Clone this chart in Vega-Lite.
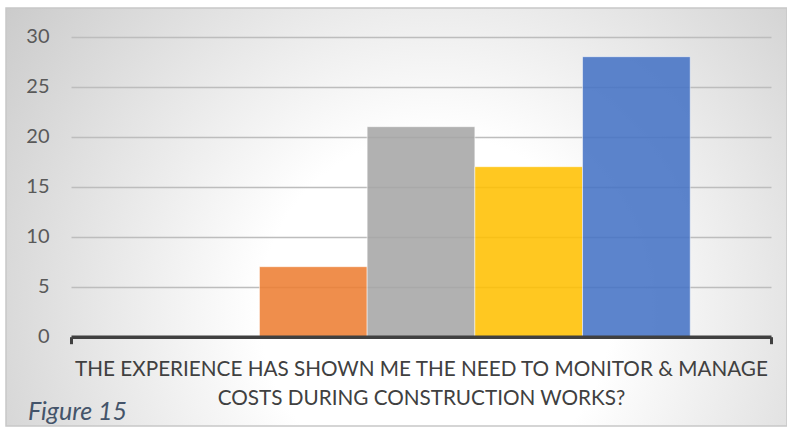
{
  "$schema": "https://vega.github.io/schema/vega-lite/v6.json",
  "autosize": "none",
  "padding": {"left": 6, "top": 8, "right": 0, "bottom": 2},
  "width": 781,
  "height": 418,
  "background": "#ffffff",
  "view": {
    "stroke": "#c8c8c8",
    "strokeWidth": 1.5,
    "fill": {
      "gradient": "radial",
      "x1": 0.55, "y1": 0.62, "r1": 0,
      "x2": 0.55, "y2": 0.62, "r2": 0.75,
      "stops": [
        {"offset": 0, "color": "#ffffff"},
        {"offset": 0.3, "color": "#ffffff"},
        {"offset": 1, "color": "#c2c2c2"}
      ]
    }
  },
  "title": {
    "text": "Figure 15",
    "orient": "bottom",
    "anchor": "start",
    "frame": "group",
    "offset": -25.75,
    "dx": 22,
    "font": "Lato",
    "fontSize": 25,
    "fontStyle": "italic",
    "fontWeight": "normal",
    "color": "#44546a"
  },
  "data": {
    "values": [
      {"question": "THE EXPERIENCE HAS SHOWN ME THE NEED  TO MONITOR & MANAGE COSTS DURING CONSTRUCTION WORKS?", "response": "Strongly disagree", "value": 0},
      {"question": "THE EXPERIENCE HAS SHOWN ME THE NEED  TO MONITOR & MANAGE COSTS DURING CONSTRUCTION WORKS?", "response": "Disagree", "value": 7},
      {"question": "THE EXPERIENCE HAS SHOWN ME THE NEED  TO MONITOR & MANAGE COSTS DURING CONSTRUCTION WORKS?", "response": "Neutral", "value": 21},
      {"question": "THE EXPERIENCE HAS SHOWN ME THE NEED  TO MONITOR & MANAGE COSTS DURING CONSTRUCTION WORKS?", "response": "Agree", "value": 17},
      {"question": "THE EXPERIENCE HAS SHOWN ME THE NEED  TO MONITOR & MANAGE COSTS DURING CONSTRUCTION WORKS?", "response": "Strongly agree", "value": 28}
    ]
  },
  "mark": {
    "type": "bar",
    "fillOpacity": 0.87,
    "stroke": "#ffffff",
    "strokeOpacity": 0.5,
    "strokeWidth": 1
  },
  "encoding": {
    "x": {
      "field": "question",
      "type": "nominal",
      "scale": {"range": [65, 765], "paddingInner": 0, "paddingOuter": 0},
      "axis": {
        "title": null,
        "orient": "bottom",
        "offset": -89.3,
        "zindex": 1,
        "domainColor": "#404040",
        "domainWidth": 3.5,
        "tickBand": "extent",
        "tickColor": "#404040",
        "tickWidth": 3,
        "tickSize": 7,
        "labelAngle": 0,
        "labelExpr": "[substring(datum.label, 0, 57), substring(datum.label, 58)]",
        "labelFont": "Lato",
        "labelFontSize": 20.7,
        "labelColor": "#404040",
        "labelPadding": 16,
        "labelLineHeight": 29,
        "labelLimit": 0
      }
    },
    "xOffset": {
      "field": "response",
      "type": "nominal",
      "sort": ["Strongly disagree", "Disagree", "Neutral", "Agree", "Strongly agree"],
      "scale": {"paddingInner": 0, "paddingOuter": 0.75}
    },
    "y": {
      "field": "value",
      "type": "quantitative",
      "scale": {"domain": [0, 30], "range": [328.7, 28.7], "nice": false},
      "axis": {
        "title": null,
        "values": [0, 5, 10, 15, 20, 25, 30],
        "offset": -65,
        "domain": false,
        "ticks": false,
        "labelPadding": 22,
        "labelFont": "Lato",
        "labelFontSize": 20,
        "labelColor": "#595959",
        "grid": true,
        "gridColor": "#bdbdbd",
        "gridWidth": 1.3
      }
    },
    "color": {
      "field": "response",
      "type": "nominal",
      "sort": ["Strongly disagree", "Disagree", "Neutral", "Agree", "Strongly agree"],
      "scale": {
        "domain": ["Strongly disagree", "Disagree", "Neutral", "Agree", "Strongly agree"],
        "range": ["#5b9bd5", "#ed7d31", "#a5a5a5", "#ffc000", "#4472c4"]
      },
      "legend": null
    }
  }
}
